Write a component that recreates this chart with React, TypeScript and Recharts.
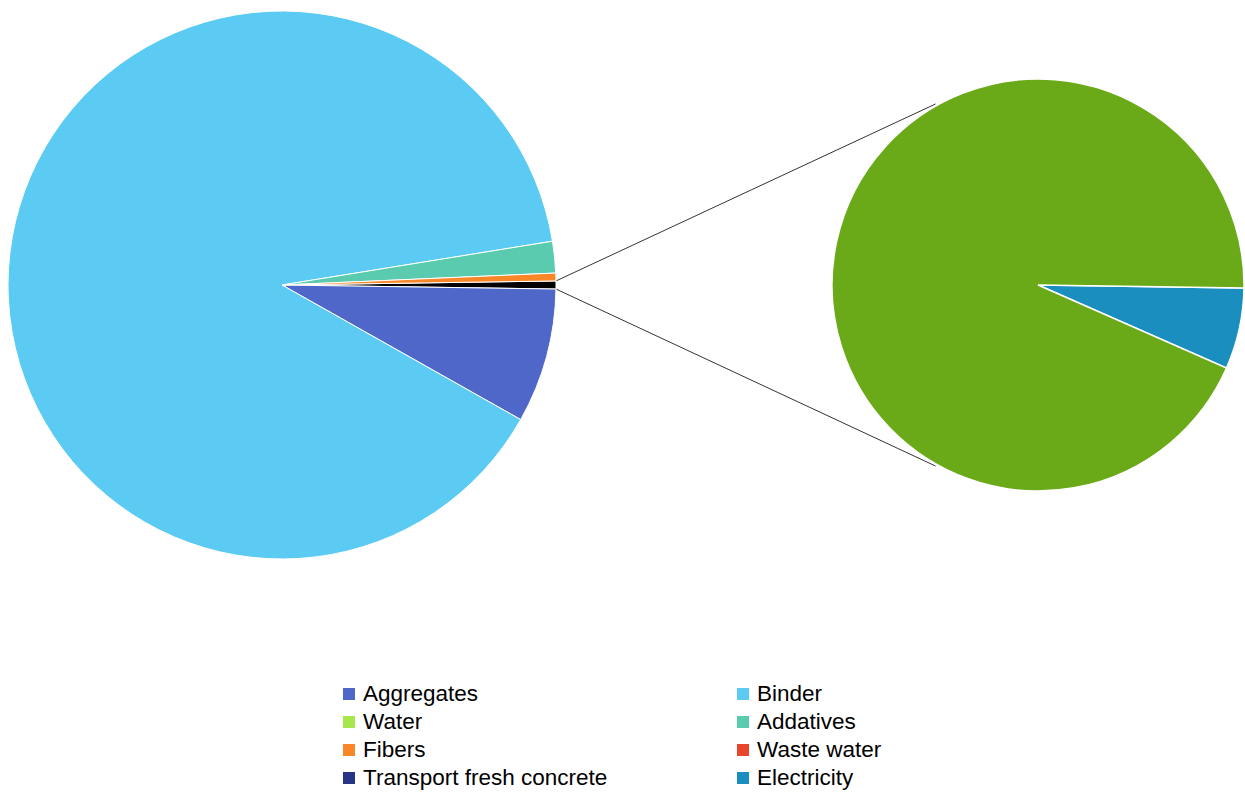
import React from 'react';
import { PieChart, Pie, Cell, Legend, Customized } from 'recharts';

// legend entries (order as shown, row by row)
const legendLabels = [
  'Aggregates', 'Binder', 'Water', 'Addatives',
  'Fibers', 'Waste water', 'Transport fresh concrete', 'Electricity',
];
const legendColors = [
  '#4F67C9', '#5CCBF4', '#A6E84B', '#5BCBAF',
  '#F98627', '#E9452C', '#283584', '#1A8EBF',
];

// secondary pie (split out of the "Other" slice)
const subLabels = ['Electricity', 'Transport fresh concrete'];
const subValues = [0.3, 4.4];
const subColors = ['#1A8EBF', '#6AA917'];

// primary pie, clockwise from the "Other" slice
const mainLabels = ['Other', 'Aggregates', 'Binder', 'Water', 'Addatives', 'Fibers'];
const mainValues = [subValues[0] + subValues[1], 79.4, 893, 0, 18.6, 4.6];
const mainColors = ['#000000', '#4F67C9', '#5CCBF4', '#A6E84B', '#5BCBAF', '#F98627'];

const W = 1245;
const H = 792;
const MAIN = { cx: 282, cy: 285, r: 274 };
const SUB = { cx: 1038, cy: 285, r: 206 };

const mainTotal = mainValues.reduce((a, b) => a + b, 0);
const otherHalf = (mainValues[0] / mainTotal) * 180;

const mainData = mainLabels
  .map((name, i) => ({ name, value: mainValues[i], color: mainColors[i] }))
  .filter((d) => d.value > 0);
const subData = subLabels.map((name, i) => ({ name, value: subValues[i], color: subColors[i] }));

const rad = (deg: number) => (deg * Math.PI) / 180;
const pt = (c: { cx: number; cy: number; r: number }, deg: number) => ({
  x: c.cx + c.r * Math.cos(rad(deg)),
  y: c.cy - c.r * Math.sin(rad(deg)),
});

const Connectors = () => {
  const a1 = pt(MAIN, otherHalf);
  const a2 = pt(MAIN, -otherHalf);
  const b1 = pt({ ...SUB, r: SUB.r + 2 }, 119.5);
  const b2 = pt({ ...SUB, r: SUB.r + 2 }, -119.5);
  return (
    <g>
      <line x1={a1.x} y1={a1.y} x2={b1.x} y2={b1.y} stroke="#000" strokeWidth={0.8} />
      <line x1={a2.x} y1={a2.y} x2={b2.x} y2={b2.y} stroke="#000" strokeWidth={0.8} />
    </g>
  );
};

const LegendContent = () => (
  <div
    style={{
      display: 'grid',
      gridTemplateColumns: '394px 220px',
      rowGap: 0,
      fontFamily: '"Liberation Sans", Arial, sans-serif',
      fontSize: 22.5,
      color: '#000',
    }}
  >
    {legendLabels.map((label, i) => (
      <div key={label} style={{ display: 'flex', alignItems: 'center', height: 28, whiteSpace: 'nowrap' }}>
        <span
          style={{
            display: 'inline-block',
            width: 12,
            height: 12,
            background: legendColors[i],
            marginRight: 8,
            flexShrink: 0,
          }}
        />
        {label}
      </div>
    ))}
  </div>
);

export default function App() {
  return (
    <div style={{ position: 'absolute', left: 0, top: 0, width: W, height: H, background: '#fff' }}>
      <PieChart width={W} height={H} margin={{ top: 0, right: 0, bottom: 0, left: 0 }}>
        <Pie
          data={mainData}
          dataKey="value"
          nameKey="name"
          cx={MAIN.cx}
          cy={MAIN.cy}
          outerRadius={MAIN.r}
          startAngle={otherHalf}
          endAngle={otherHalf - 360}
          stroke="#fff"
          strokeWidth={1}
          isAnimationActive={false}
          legendType="none"
        >
          {mainData.map((d) => (
            <Cell key={d.name} fill={d.color} />
          ))}
        </Pie>
        <Pie
          data={subData}
          dataKey="value"
          nameKey="name"
          cx={SUB.cx}
          cy={SUB.cy}
          outerRadius={SUB.r}
          startAngle={-0.8}
          endAngle={-360.8}
          stroke="#fff"
          strokeWidth={1.5}
          isAnimationActive={false}
          legendType="none"
        >
          {subData.map((d) => (
            <Cell key={d.name} fill={d.color} />
          ))}
        </Pie>
        <Customized component={Connectors} />
        <Legend
          content={<LegendContent />}
          wrapperStyle={{ position: 'absolute', left: 343, top: 680, width: 640 }}
        />
      </PieChart>
    </div>
  );
}
